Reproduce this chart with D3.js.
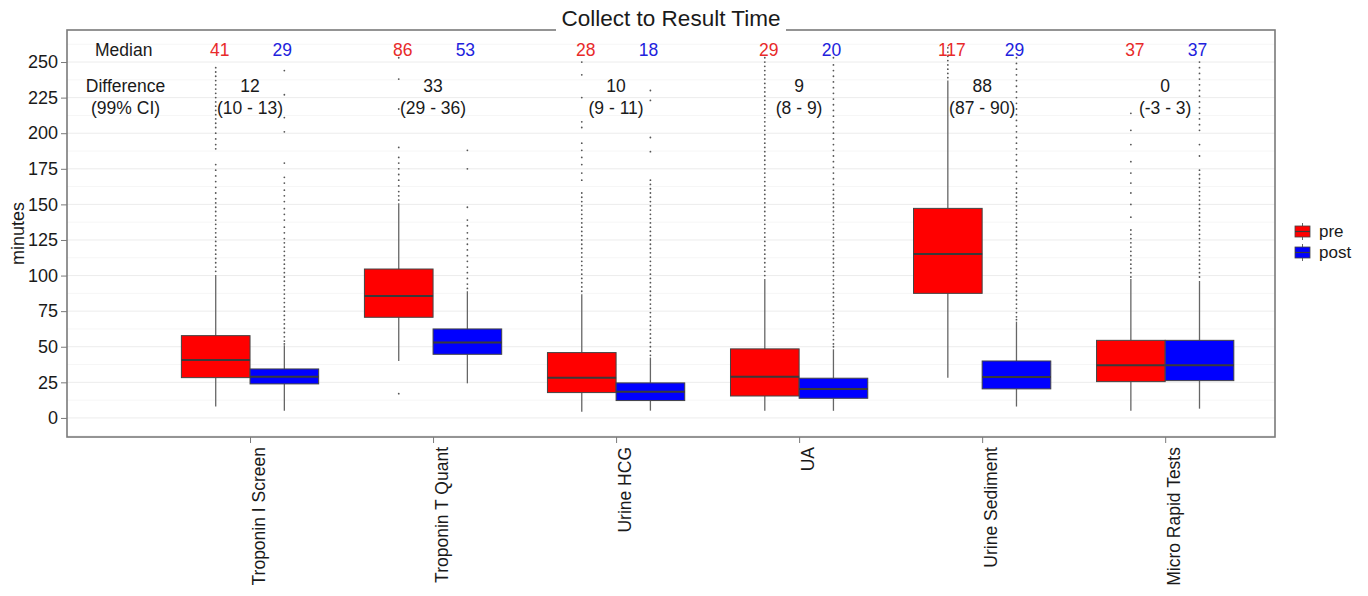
<!DOCTYPE html>
<html>
<head>
<meta charset="utf-8">
<script src="https://cdn.jsdelivr.net/npm/d3@7"></script>
<style>
  body { margin: 0; background: #fff; }
  text { font-family: "Liberation Sans", Arial, sans-serif; }
</style>
</head>
<body>
<div id="chart"></div>
<script>
// categories and series
const categories = ['Troponin I Screen', 'Troponin T Quant', 'Urine HCG', 'UA', 'Urine Sediment', 'Micro Rapid Tests'];
const groups = ['pre', 'post'];
const yTicks = [0, 25, 50, 75, 100, 125, 150, 175, 200, 225, 250];

// box stats (minutes)
const preLow  = [8, 40, 4.4, 5, 28.3, 5];
const preQ1   = [28.3, 70.7, 17.8, 15.4, 87.5, 25.5];
const preMed  = [40.7, 85.7, 28.3, 29, 115.2, 37];
const preQ3   = [57.8, 104.6, 45.9, 48.5, 147.2, 54.5];
const preHigh = [100.4, 150.8, 86.8, 97.6, 237, 97.6];

const postLow  = [5, 24.3, 5.1, 5, 8, 6.5];
const postQ1   = [23.9, 44.7, 12.2, 13.8, 20.4, 26.2];
const postMed  = [29, 52.9, 18.3, 20.4, 28.8, 37];
const postQ3   = [34.4, 62.5, 24.6, 27.9, 40, 54.5];
const postHigh = [51, 89, 42.4, 48.2, 67.6, 96.2];

// outliers
const preOut = [
  [246,243,240,237,234,231,228,225,222,219,216,213,210,207,204,200,196,192,189,178,174,170,166,162,158,154,151,148,145,142,139,136,133,130,127,124,121,118,115,112,109,106,103],
  [253,238,217,190,183,179,175,171,167,163,159,156,153,17],
  [250,241,225,208,204,193,188,183,178,172,167,158,155,152,149,146,143,140,137,134,131,128,125,122,119,116,113,110,107,104,101,98,95,92,89],
  [253,250,247,244,241,238,235,232,229,226,223,220,217,214,211,208,205,202,199,196,193,190,187,184,181,178,175,172,169,166,163,160,157,154,151,148,145,142,139,136,133,130,127,124,121,118,115,112,109,106,103,100],
  [260,257,254,251,248,245,242,239],
  [214,202,192,180,172,165,158,150,141,132,129,126,123,120,117,114,111,108,105,102,99]
];
const postOut = [
  [244,227,211,201,179,169,165,160,156,152,147,143,139,134,130,126,123,120,117,114,111,108,105,102,99,96,93,90,87,84,81,78,75,72,69,66,63,60,57,54,52],
  [188,175,148,139,135,130,126,122,118,114,110,106,102,98,94,91],
  [230,223,197,187,167,164,161,158,155,152,149,146,143,140,137,134,131,128,125,122,119,116,113,110,107,104,101,98,95,92,89,86,83,80,77,74,71,68,65,62,59,56,53,50,47,44],
  [253,248,244,240,236,232,228,224,220,216,212,208,204,200,196,192,188,184,180,176,172,168,164,160,157,154,151,148,145,142,139,136,133,130,127,124,121,118,115,112,109,106,103,100,97,94,91,88,85,82,79,76,73,70,67,64,61,58,55,52,50],
  [253,249,245,241,237,233,229,225,221,217,213,209,205,201,197,193,189,185,181,177,173,169,165,161,158,155,152,149,146,143,140,137,134,131,128,125,122,119,116,113,110,107,104,101,98,95,92,89,86,83,80,77,74,71,69],
  [250,246,242,238,234,230,226,222,218,214,210,206,202,192,184,174,171,168,165,162,159,156,153,150,147,144,141,138,135,132,129,126,123,120,117,114,111,108,105,102,99]
];

// annotation table
const medianPre  = ['41', '86', '28', '29', '117', '37'];
const medianPost = ['29', '53', '18', '20', '29', '37'];
const diffs      = ['12', '33', '10', '9', '88', '0'];
const diffCI     = ['(10 - 13)', '(29 - 36)', '(9 - 11)', '(8 - 9)', '(87 - 90)', '(-3 - 3)'];

const width = 1368, height = 596;
const pLeft = 67, pRight = 1275, pTop = 30, pBottom = 437;
const colors = { pre: '#ff0000', post: '#0000ff' };

const svg = d3.select('#chart').append('svg')
  .attr('width', width)
  .attr('height', height);

const x = d3.scaleLinear().domain([0, 6.6]).range([pLeft, pRight]);
const y = d3.scaleLinear().domain([-13.4, 272.5]).range([pBottom, pTop]);
const boxW = x(0.375) - x(0);
const dodge = { pre: -boxW / 2, post: boxW / 2 };

// grid lines
const minor = [-12.5].concat(yTicks.map(t => t + 12.5)).filter(t => t < 272);
svg.append('g').selectAll('line')
  .data(minor).enter().append('line')
  .attr('x1', pLeft).attr('x2', pRight)
  .attr('y1', d => y(d)).attr('y2', d => y(d))
  .attr('stroke', '#f6f6f6').attr('stroke-width', 1);
svg.append('g').selectAll('line')
  .data(yTicks).enter().append('line')
  .attr('x1', pLeft).attr('x2', pRight)
  .attr('y1', d => y(d)).attr('y2', d => y(d))
  .attr('stroke', '#ececec').attr('stroke-width', 1);

// build rows per box
const rows = [];
categories.forEach((c, i) => {
  rows.push({ g: 'pre', i, lo: preLow[i], q1: preQ1[i], med: preMed[i], q3: preQ3[i], hi: preHigh[i], out: preOut[i] });
  rows.push({ g: 'post', i, lo: postLow[i], q1: postQ1[i], med: postMed[i], q3: postQ3[i], hi: postHigh[i], out: postOut[i] });
});
const cx = d => x(d.i + 1) + dodge[d.g];

const boxes = svg.append('g').selectAll('g.box')
  .data(rows).enter().append('g').attr('class', 'box');

// whiskers
boxes.append('line')
  .attr('x1', cx).attr('x2', cx)
  .attr('y1', d => y(d.hi)).attr('y2', d => y(d.q3))
  .attr('stroke', '#666').attr('stroke-width', 1.3);
boxes.append('line')
  .attr('x1', cx).attr('x2', cx)
  .attr('y1', d => y(d.q1)).attr('y2', d => y(d.lo))
  .attr('stroke', '#666').attr('stroke-width', 1.3);

// outlier dots
boxes.selectAll('circle')
  .data(d => d.out.map(v => ({ v, x: cx(d) })))
  .enter().append('circle')
  .attr('cx', d => d.x).attr('cy', d => y(d.v))
  .attr('r', 0.9)
  .attr('fill', '#555');

boxes.append('rect')
  .attr('x', d => cx(d) - boxW / 2)
  .attr('width', boxW)
  .attr('y', d => y(d.q3))
  .attr('height', d => y(d.q1) - y(d.q3))
  .attr('fill', d => colors[d.g])
  .attr('stroke', '#444').attr('stroke-width', 1);

boxes.append('line')
  .attr('x1', d => cx(d) - boxW / 2).attr('x2', d => cx(d) + boxW / 2)
  .attr('y1', d => y(d.med)).attr('y2', d => y(d.med))
  .attr('stroke', '#3a3a3a').attr('stroke-width', 2);

// annotations
const ann = svg.append('g').style('font-size', '17.5px');
ann.append('text').attr('x', x(0.31)).attr('y', y(258.4)).attr('dy', '0.35em')
  .attr('text-anchor', 'middle').attr('fill', '#1a1a1a').text('Median');
ann.append('text').attr('x', x(0.32)).attr('y', y(233)).attr('dy', '0.35em')
  .attr('text-anchor', 'middle').attr('fill', '#1a1a1a').text('Difference');
ann.append('text').attr('x', x(0.32)).attr('y', y(217.7)).attr('dy', '0.35em')
  .attr('text-anchor', 'middle').attr('fill', '#1a1a1a').text('(99% CI)');

categories.forEach((c, i) => {
  ann.append('text').attr('x', x(i + 1) + dodge.pre + 4).attr('y', y(258.4)).attr('dy', '0.35em')
    .attr('text-anchor', 'middle').attr('fill', '#e82a2a').text(medianPre[i]);
  ann.append('text').attr('x', x(i + 1) + dodge.post - 2).attr('y', y(258.4)).attr('dy', '0.35em')
    .attr('text-anchor', 'middle').attr('fill', '#2222dd').text(medianPost[i]);
  ann.append('text').attr('x', x(i + 1)).attr('y', y(233)).attr('dy', '0.35em')
    .attr('text-anchor', 'middle').attr('fill', '#1a1a1a').text(diffs[i]);
  ann.append('text').attr('x', x(i + 1)).attr('y', y(217.7)).attr('dy', '0.35em')
    .attr('text-anchor', 'middle').attr('fill', '#1a1a1a').text(diffCI[i]);
});

// panel border
svg.append('rect')
  .attr('x', pLeft).attr('y', pTop)
  .attr('width', pRight - pLeft).attr('height', pBottom - pTop)
  .attr('fill', 'none').attr('stroke', '#7a7a7a').attr('stroke-width', 1.6);

// title (white backing breaks the border like the original)
svg.append('rect').attr('x', 556).attr('y', 24).attr('width', 230).attr('height', 10).attr('fill', '#fff');
svg.append('text')
  .attr('x', (pLeft + pRight) / 2).attr('y', 26)
  .attr('text-anchor', 'middle')
  .style('font-size', '22.5px').attr('fill', '#1a1a1a')
  .text('Collect to Result Time');

// y axis
const yAxis = svg.append('g')
  .attr('transform', `translate(${pLeft},0)`)
  .call(d3.axisLeft(y).tickValues(yTicks).tickSize(6).tickPadding(3));
yAxis.select('.domain').remove();
yAxis.selectAll('line').attr('stroke', '#7a7a7a');
yAxis.selectAll('text').style('font-size', '18px').attr('fill', '#1a1a1a')
  .style('font-family', '"Liberation Sans", Arial, sans-serif');

svg.append('text')
  .attr('transform', `translate(18,${(pTop + pBottom) / 2}) rotate(-90)`)
  .attr('text-anchor', 'middle').attr('dy', '0.35em')
  .style('font-size', '18px').attr('fill', '#1a1a1a')
  .text('minutes');

// x axis
const xAxis = svg.append('g')
  .attr('transform', `translate(0,${pBottom})`)
  .call(d3.axisBottom(x).tickValues([1, 2, 3, 4, 5, 6]).tickFormat(d => categories[d - 1]).tickSize(6));
xAxis.select('.domain').remove();
xAxis.selectAll('line').attr('stroke', '#7a7a7a');
xAxis.selectAll('.tick text')
  .style('font-size', '17.5px').attr('fill', '#1a1a1a')
  .style('font-family', '"Liberation Sans", Arial, sans-serif')
  .attr('text-anchor', 'end')
  .attr('x', -10).attr('y', 8).attr('dy', '0.35em')
  .attr('transform', 'rotate(-90)');

// legend
const legend = svg.append('g').attr('transform', 'translate(1295,226)');
groups.forEach((g, k) => {
  const row = legend.append('g').attr('transform', `translate(0,${k * 21})`);
  row.append('line').attr('x1', 7.5).attr('x2', 7.5).attr('y1', -3).attr('y2', 14)
    .attr('stroke', '#666').attr('stroke-width', 1);
  row.append('rect').attr('x', 0).attr('y', 0).attr('width', 15).attr('height', 11)
    .attr('fill', colors[g]).attr('stroke', '#444').attr('stroke-width', 0.8);
  row.append('line').attr('x1', 0).attr('x2', 15).attr('y1', 5.5).attr('y2', 5.5)
    .attr('stroke', '#3a3a3a').attr('stroke-width', 1.2);
  row.append('text').attr('x', 24).attr('y', 5.5).attr('dy', '0.35em')
    .style('font-size', '17px').attr('fill', '#1a1a1a').text(g);
});
</script>
</body>
</html>
